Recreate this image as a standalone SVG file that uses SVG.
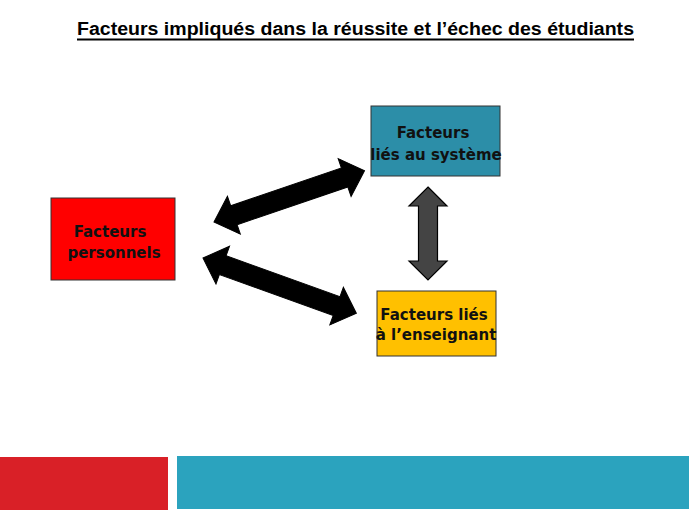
<svg xmlns="http://www.w3.org/2000/svg" width="689" height="517" viewBox="0 0 689 517">
<style>
.title{font-family:"Liberation Sans",Arial,sans-serif;font-weight:bold;font-size:17.5px;fill:#000}
.lbl{font-family:"DejaVu Sans",Verdana,sans-serif;font-weight:bold;font-size:15px;fill:#111;text-anchor:middle}
.box{stroke:#333;stroke-width:1}
.blk{fill:#000;stroke:#000;stroke-width:1}
.gry{fill:#444;stroke:#000;stroke-width:1.2}
</style>
<rect width="689" height="517" fill="#fff"/>
<text class="title" x="77" y="35" textLength="557" lengthAdjust="spacingAndGlyphs">Facteurs impliqués dans la réussite et l’échec des étudiants</text>
<rect x="77" y="38.5" width="557" height="2" fill="#000"/>

<g id="n-personnels">
<rect class="box" x="51" y="198" width="124" height="82" fill="#FF0000"/>
<text class="lbl" x="110" y="237">Facteurs</text>
<text class="lbl" x="114" y="258">personnels</text>
</g>
<g id="n-systeme">
<rect class="box" x="371" y="106" width="129" height="70" fill="#2C8EA8"/>
<text class="lbl" x="433" y="138">Facteurs</text>
<text class="lbl" x="436" y="160">liés au système</text>
</g>
<g id="n-enseignant">
<rect class="box" x="377" y="291" width="119" height="65" fill="#FFC000"/>
<text class="lbl" x="434" y="320">Facteurs liés</text>
<text class="lbl" x="436" y="340">à l’enseignant</text>
</g>

<g id="connectors">
<polygon class="blk" transform="translate(214,222) rotate(-18.8)" points="0,0 21,-20 21,-10 138,-10 138,-20 159,0 138,20 138,10 21,10 21,20"/>
<polygon class="blk" transform="translate(203,258) rotate(19.8)" points="0,0 21,-20 21,-10 142,-10 142,-20 163,0 142,20 142,10 21,10 21,20"/>
<polygon class="gry" points="428,187 447,206 437.5,206 437.5,261 447,261 428,280 409,261 418.5,261 418.5,206 409,206"/>
</g>

<rect x="0" y="457" width="168" height="53" fill="#D92027"/>
<rect x="177" y="456" width="512" height="53" fill="#2BA3BE"/>
</svg>
